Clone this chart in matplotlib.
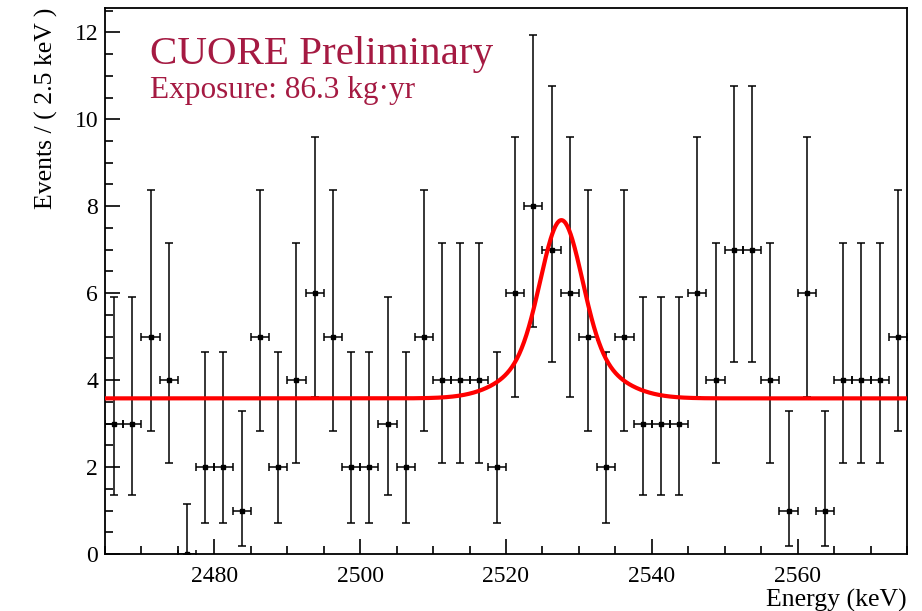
import matplotlib.pyplot as plt
import numpy as np
from matplotlib.ticker import MultipleLocator

plt.rcParams['font.family'] = ['Liberation Serif', 'DejaVu Serif']

# 2.5 keV bins from 2465 to 2575 keV
BIN_LOW = 2465.0
BIN_WIDTH = 2.5
counts = [3, 3, 5, 4, 0, 2, 2, 1, 5, 2, 4,
          6, 5, 2, 2, 3, 2, 5, 4, 4, 4, 2,
          6, 8, 7, 6, 5, 2, 5, 3, 3, 3, 6,
          4, 7, 7, 4, 1, 6, 1, 4, 4, 4, 5]

# 68% Poisson (Garwood) interval edges for n = 0..8
poisson_lo = [0.0, 0.1727, 0.7082, 1.3673, 2.0857, 2.8403, 3.6201, 4.4185, 5.2316]
poisson_hi = [1.1479, 3.2994, 4.6378, 5.9182, 7.1628, 8.3825, 9.5836, 10.7703, 11.9455]

# fit: flat background + peak at Q_bb (core + broad tail component)
bkg_level = 3.58
peak_pos = 2527.6
core_amp, core_sigma = 2.95, 2.75
tail_amp, tail_sigma = 1.15, 5.8

counts = np.array(counts)
centers = BIN_LOW + BIN_WIDTH * (np.arange(len(counts)) + 0.5)
err_lo = counts - np.array(poisson_lo)[counts]
err_hi = np.array(poisson_hi)[counts] - counts

fig = plt.figure(figsize=(9.22, 6.11), dpi=100)
ax = fig.add_axes([0.1139, 0.0933, 0.8698, 0.8936])

ax.errorbar(centers, counts, yerr=[err_lo, err_hi], xerr=BIN_WIDTH / 2,
            fmt='s', color='black', ms=3.5, elinewidth=1.1, capsize=2.6,
            capthick=1.1, zorder=3)

energy = np.linspace(BIN_LOW, BIN_LOW + BIN_WIDTH * len(counts), 1000)
model = (bkg_level
         + core_amp * np.exp(-0.5 * ((energy - peak_pos) / core_sigma) ** 2)
         + tail_amp * np.exp(-0.5 * ((energy - peak_pos) / tail_sigma) ** 2))
ax.plot(energy, model, color='#ff0000', lw=3.0, zorder=4)

ax.set_xlim(BIN_LOW, BIN_LOW + BIN_WIDTH * len(counts))
ax.set_ylim(0, 12.56)

ax.xaxis.set_major_locator(MultipleLocator(20))
ax.xaxis.set_minor_locator(MultipleLocator(5))
ax.yaxis.set_major_locator(MultipleLocator(2))
ax.yaxis.set_minor_locator(MultipleLocator(0.5))
ax.tick_params(which='both', direction='in', top=False, right=False,
               labelsize=17, width=1.2)
ax.tick_params(which='major', length=11)
ax.tick_params(which='minor', length=6)
ax.tick_params(axis='x', pad=9)
ax.tick_params(axis='y', pad=5)
for sp in ax.spines.values():
    sp.set_linewidth(1.3)

ax.set_xlabel('Energy (keV)', fontsize=18.5, loc='right', labelpad=1)
ax.set_ylabel('Events / ( 2.5 keV )', fontsize=18.5, loc='top', labelpad=12)

ax.text(0.056, 0.897, 'CUORE Preliminary', transform=ax.transAxes,
        fontsize=29.5, color='#a51a42', va='baseline', ha='left')
ax.text(0.056, 0.835, 'Exposure: 86.3 kg\u00b7yr', transform=ax.transAxes,
        fontsize=22.5, color='#a51a42', va='baseline', ha='left')

fig.savefig('out.png', dpi=100)
